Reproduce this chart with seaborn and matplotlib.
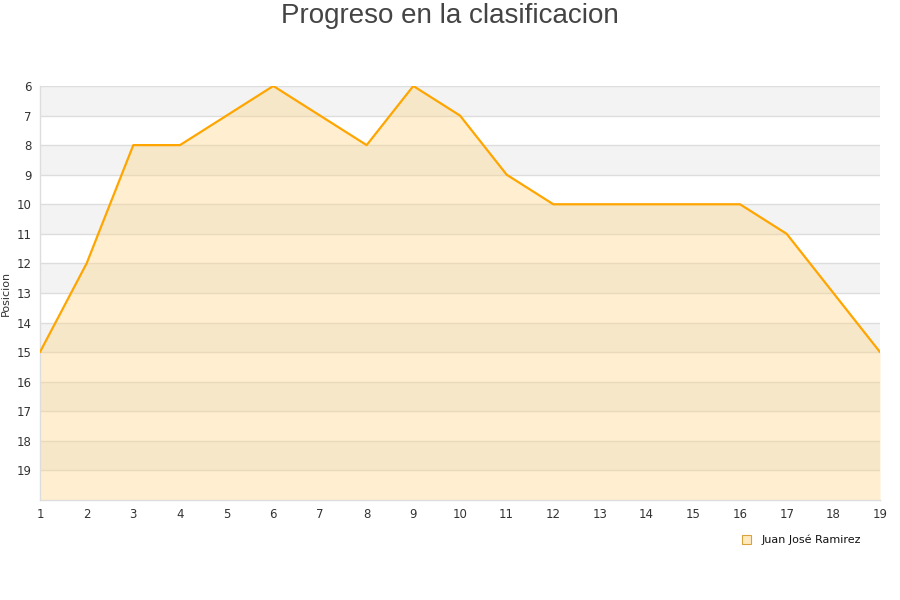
import numpy as np
import pandas as pd
import matplotlib
matplotlib.use('Agg')
import matplotlib.pyplot as plt
import seaborn as sns
from matplotlib.patches import Patch

sns.set_theme(style="white")
plt.rcParams['font.family'] = ['DejaVu Sans']

jornadas = list(range(1, 20))
posicion = [15, 12, 8, 8, 7, 6, 7, 8, 6, 7, 9, 10, 10, 10, 10, 10, 11, 13, 15]
jugador = "Juan José Ramirez"

df = pd.DataFrame({'Jornada': jornadas, 'Posicion': posicion})

fig = plt.figure(figsize=(9, 6), dpi=100)
ax = fig.add_axes([0.0444, 0.1667, 0.9334, 0.69])

# bandas alternas
for y in range(6, 20):
    if (y - 6) % 2 == 0:
        ax.axhspan(y, y + 1, color='#f3f3f3', zorder=0, lw=0)
    ax.axhline(y, color='#dddddd', lw=1, zorder=1)

ax.fill_between(df['Jornada'], df['Posicion'], 20, color='#ffd78a', alpha=0.4, lw=0, zorder=2)
sns.lineplot(data=df, x='Jornada', y='Posicion', ax=ax, color='#ffa500', lw=1.6, zorder=3)

ax.set_xlim(1, 19)
ax.set_ylim(20, 6)
ax.set_xticks(jornadas)
ax.set_yticks(range(6, 20))
ax.tick_params(axis='both', labelsize=8.5, colors='#333333', length=0, pad=6)
ax.set_xlabel('')
ax.set_ylabel('Posicion', fontsize=8, color='#333333', labelpad=4)
for s in ['top', 'right']:
    ax.spines[s].set_visible(False)
for s in ['left', 'bottom']:
    ax.spines[s].set_color('#dddddd')
    ax.spines[s].set_linewidth(1)

fig.suptitle('Progreso en la clasificacion', fontsize=20, color='#444444', y=0.995,
             family=['Liberation Sans', 'DejaVu Sans'])

handle = Patch(facecolor='#ffe9bf', edgecolor='#d9a23b', lw=0.8)
fig.legend([handle], [jugador], loc='center left', bbox_to_anchor=(0.813, 0.1), frameon=False,
           fontsize=8, handlelength=0.8, handleheight=0.8, handletextpad=1.0, labelcolor='#111111')

fig.savefig('out.png', dpi=100)
